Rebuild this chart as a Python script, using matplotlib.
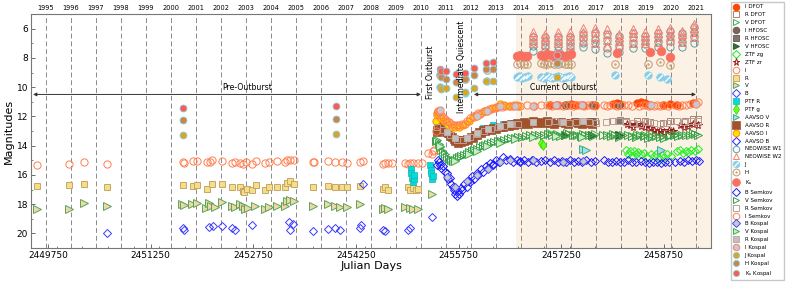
import matplotlib
matplotlib.use("Agg")
import matplotlib.pyplot as plt
from matplotlib.ticker import MultipleLocator, FixedLocator

plt.rcParams['font.family'] = ['DejaVu Sans']

# ---------------- data ----------------
years = list(range(1995, 2022))
year_jd = [2449718.5, 2450083.5, 2450449.5, 2450814.5, 2451179.5, 2451544.5, 2451910.5,
           2452275.5, 2452640.5, 2453005.5, 2453371.5, 2453736.5, 2454101.5, 2454466.5,
           2454832.5, 2455197.5, 2455562.5, 2455927.5, 2456293.5, 2456658.5, 2457023.5,
           2457388.5, 2457754.5, 2458119.5, 2458484.5, 2458849.5, 2459215.5]
x_ticks = [2449750, 2451250, 2452750, 2454250, 2455750, 2457250, 2458750]

I_DFOT = [(2457084, 11.2), (2457186, 11.25), (2457333, 11.2), (2457400, 11.15), (2457450, 11.2),
          (2457567, 11.25), (2457742, 11.2), (2458005, 11.15), (2458060, 11.1), (2458107, 11.15),
          (2458356, 11.1), (2458420, 11.05), (2458472, 11.1), (2458545, 11.2), (2458735, 11.2),
          (2458837, 11.15), (2458940, 11.2), (2459174, 11.1)]
R_DFOT = [(2457084, 12.35), (2457186, 12.3), (2457333, 12.4), (2457450, 12.3), (2457567, 12.35),
          (2457742, 12.3), (2458005, 12.3), (2458107, 12.25), (2458200, 12.35), (2458356, 12.3),
          (2458472, 12.35), (2458545, 12.4), (2458735, 12.45), (2458837, 12.35), (2458940, 12.35),
          (2459060, 12.3), (2459174, 12.2), (2459250, 12.15)]
V_DFOT = [(2457084, 13.15), (2457186, 13.2), (2457333, 13.15), (2457450, 13.25), (2457567, 13.2),
          (2457742, 13.2), (2458005, 13.2), (2458107, 13.3), (2458356, 13.25), (2458472, 13.3),
          (2458545, 13.3), (2458735, 13.35), (2458837, 13.25), (2458940, 13.2), (2459174, 13.15)]
I_HFOSC = [(2457300, 11.2), (2457700, 11.2), (2458100, 11.2)]
R_HFOSC = [(2457300, 12.4), (2457700, 12.35), (2458100, 12.3)]
V_HFOSC = [(2457300, 13.3), (2457700, 13.25), (2458100, 13.3)]
ZTF_zg = [(2458200, 14.3), (2458230, 14.6), (2458260, 14.4), (2458290, 14.7), (2458320, 14.35),
          (2458350, 14.55), (2458380, 14.45), (2458420, 14.6), (2458460, 14.5), (2458500, 14.75),
          (2458560, 14.55), (2458600, 14.7), (2458640, 14.6), (2458680, 14.85), (2458720, 14.65),
          (2458760, 14.8), (2458800, 14.6), (2458850, 14.7), (2458950, 14.4), (2458990, 14.3),
          (2459030, 14.5), (2459070, 14.35), (2459110, 14.45), (2459150, 14.3), (2459200, 14.4),
          (2459250, 14.25)]
ZTF_zr = [(2458210, 12.5), (2458250, 12.6), (2458300, 12.7), (2458350, 12.55), (2458420, 12.65),
          (2458480, 12.75), (2458545, 12.8), (2458600, 12.95), (2458650, 13.05), (2458700, 12.9),
          (2458760, 13.1), (2458820, 12.95), (2458880, 13.0), (2458990, 12.6), (2459050, 12.7),
          (2459110, 12.65), (2459180, 12.55), (2459250, 12.6)]

I_arch = [(2449585, 15.35), (2450057, 15.25), (2450280, 15.15), (2450608, 15.28), (2451718, 15.15),
          (2451737, 15.2), (2451864, 15.05), (2451922, 15.05), (2452069, 15.15), (2452117, 15.1),
          (2452150, 15.0), (2452288, 15.05), (2452434, 15.2), (2452482, 15.15), (2452555, 15.2),
          (2452594, 15.25), (2452643, 15.15), (2452726, 15.25), (2452784, 15.05), (2452920, 15.2),
          (2452983, 15.1), (2453100, 15.05), (2453213, 15.1), (2453246, 15.0), (2453286, 14.95),
          (2453344, 14.98), (2453617, 15.15), (2453636, 15.1), (2453845, 15.05), (2453943, 15.1),
          (2454041, 15.15), (2454114, 15.18), (2454308, 15.12), (2454357, 15.05), (2454649, 15.24),
          (2454674, 15.2), (2454722, 15.2), (2454771, 15.22), (2454966, 15.2), (2455014, 15.25),
          (2455039, 15.2), (2455088, 15.18), (2455160, 15.2), (2455210, 15.2), (2455300, 14.5),
          (2455356, 14.55), (2455380, 14.4)]
R_arch = [(2449585, 16.75), (2450057, 16.7), (2450280, 16.6), (2450608, 16.85), (2451718, 16.7),
          (2451864, 16.75), (2451922, 16.72), (2452069, 16.95), (2452150, 16.6), (2452288, 16.65),
          (2452434, 16.85), (2452555, 16.85), (2452594, 17.1), (2452614, 17.2), (2452653, 16.95),
          (2452726, 17.0), (2452784, 16.7), (2452920, 17.0), (2452983, 16.8), (2453100, 16.8),
          (2453213, 16.8), (2453246, 16.55), (2453286, 16.45), (2453344, 16.6), (2453617, 16.85),
          (2453845, 16.75), (2453943, 16.8), (2454041, 16.85), (2454114, 16.85), (2454308, 16.75),
          (2454649, 16.95), (2454674, 16.85), (2454722, 17.0), (2455014, 16.83), (2455039, 17.0),
          (2455088, 16.9), (2455130, 17.05), (2455160, 16.95)]
V_arch = [(2449585, 18.35), (2450057, 18.3), (2450280, 17.92), (2450608, 18.15), (2451703, 18.0),
          (2451741, 18.05), (2451849, 18.0), (2451922, 17.95), (2452058, 18.25), (2452107, 17.95),
          (2452131, 18.15), (2452190, 18.2), (2452288, 17.85), (2452434, 18.15), (2452482, 18.2),
          (2452555, 18.0), (2452594, 18.15), (2452628, 18.3), (2452676, 18.25), (2452774, 18.1),
          (2452920, 18.3), (2452983, 18.2), (2453091, 18.1), (2453213, 18.15), (2453246, 17.8),
          (2453286, 17.7), (2453344, 17.8), (2453617, 18.15), (2453845, 18.0), (2453943, 18.1),
          (2454016, 18.2), (2454114, 18.2), (2454308, 17.97), (2454649, 18.3), (2454674, 18.25),
          (2454722, 18.3), (2454966, 18.2), (2455039, 18.25), (2455088, 18.3), (2455160, 18.3),
          (2455356, 17.3)]
B_arch = [(2450608, 20.0), (2451718, 19.6), (2451737, 19.8), (2452107, 19.55), (2452165, 19.5),
          (2452288, 19.5), (2452443, 19.65), (2452482, 19.75), (2452726, 19.4), (2453275, 19.2),
          (2453286, 19.75), (2453334, 19.35), (2453617, 19.85), (2453845, 19.7), (2453943, 19.6),
          (2454016, 19.75), (2454308, 19.6), (2454330, 19.45), (2454357, 16.6), (2454649, 19.75),
          (2454674, 19.85), (2455014, 19.8), (2455039, 19.65), (2455356, 18.9)]

PTF_R = [(2455050, 15.6), (2455060, 15.9), (2455075, 16.2), (2455085, 16.5), (2455095, 16.3),
         (2455105, 16.0), (2455330, 15.35), (2455340, 15.7), (2455350, 15.9), (2455365, 16.3),
         (2455375, 16.1), (2455430, 12.9), (2455450, 12.6), (2455480, 12.5), (2455520, 12.8),
         (2455600, 13.1), (2456100, 12.8), (2456250, 12.6), (2456400, 12.5), (2456560, 12.45),
         (2456620, 12.5)]
PTF_g = [(2456960, 13.8), (2456990, 13.95)]
AAVSO_V = [(2457571, 14.2), (2457620, 14.3), (2458716, 14.3)]
AAVSO_R = [(2455429, 13.1), (2455440, 12.9), (2455450, 12.7), (2455465, 12.6), (2455477, 12.75),
           (2455500, 12.7), (2455520, 12.9), (2455550, 12.85), (2455570, 13.05), (2455600, 13.15),
           (2455623, 13.35), (2455650, 13.4), (2455680, 13.55), (2455700, 13.7), (2455720, 13.6),
           (2455740, 13.8), (2455760, 13.65), (2455780, 13.75), (2455800, 13.6), (2455830, 13.7),
           (2455867, 13.55), (2455890, 13.6), (2455930, 13.4), (2455960, 13.45), (2455988, 13.25),
           (2456020, 13.3), (2456050, 13.1), (2456080, 13.15), (2456105, 12.95), (2456140, 13.0),
           (2456180, 12.85), (2456220, 12.9), (2456250, 12.8), (2456300, 12.85), (2456354, 12.7),
           (2456400, 12.75), (2456450, 12.6), (2456490, 12.65), (2456520, 12.55), (2456560, 12.6),
           (2456598, 12.45), (2456650, 12.5), (2456700, 12.4), (2456760, 12.5), (2456836, 12.35),
           (2456900, 12.45), (2456950, 12.4), (2457000, 12.45), (2457050, 12.35), (2457100, 12.45),
           (2457150, 12.5), (2457250, 12.4), (2457300, 12.45), (2457350, 12.5), (2457450, 12.4),
           (2457500, 12.45), (2457550, 12.5), (2457600, 12.4), (2457650, 12.45), (2457700, 12.5)]
AAVSO_I = [(2455425, 12.3), (2455440, 11.75), (2455455, 11.6), (2455470, 11.9), (2455490, 12.1),
           (2455530, 12.3), (2455560, 12.4), (2455600, 12.6), (2455650, 12.7), (2455700, 12.7),
           (2455750, 12.75), (2455820, 12.6), (2455900, 12.3), (2455980, 12.05), (2456060, 11.85),
           (2456140, 11.65), (2456220, 11.5), (2456300, 11.35), (2456360, 11.15), (2456420, 11.2),
           (2456500, 11.3), (2456560, 11.2), (2456620, 11.3)]
AAVSO_B = [(2456250, 15.25), (2456650, 15.05)]

neowise_jd = [2456831, 2457011, 2457205, 2457376, 2457562, 2457742, 2457921, 2458097, 2458301,
              2458472, 2458667, 2458838, 2459023, 2459188]
neowise_W2 = [[6.25, 6.5, 6.75, 7.0], [6.4, 6.6, 6.8, 7.05], [6.25, 6.5, 6.75, 7.0],
              [6.25, 6.5, 6.8, 7.1], [5.95, 6.2, 6.5, 6.85], [5.95, 6.25, 6.6, 7.0],
              [6.05, 6.4, 6.8, 7.2], [6.35, 6.6, 6.85, 7.1], [6.05, 6.3, 6.6, 6.95],
              [6.25, 6.5, 6.75, 7.0], [6.05, 6.3, 6.6, 6.9], [5.95, 6.2, 6.5, 6.8],
              [6.15, 6.4, 6.65, 6.9], [5.7, 5.95, 6.25, 6.6]]
neowise_W1 = [[6.6, 6.9, 7.2, 7.5], [6.6, 6.9, 7.2, 7.5], [6.6, 6.9, 7.2, 7.45],
              [6.6, 6.9, 7.2, 7.5], [6.35, 6.65, 6.95, 7.25], [6.3, 6.7, 7.0, 7.4],
              [6.4, 6.8, 7.3, 7.7], [6.5, 6.85, 7.2, 7.6], [6.3, 6.6, 6.95, 7.35],
              [6.5, 6.8, 7.05, 7.35], [6.3, 6.6, 6.9, 7.25], [6.15, 6.5, 6.85, 7.25],
              [6.3, 6.6, 6.9, 7.25], [5.9, 6.2, 6.55, 7.0]]

J_obs = [(2455480, 10.0), (2455850, 10.4), (2456160, 9.6), (2456600, 9.3), (2456640, 9.25),
         (2456680, 9.35), (2456720, 9.3), (2456760, 9.25), (2456950, 9.3), (2457000, 9.35),
         (2457040, 9.25), (2457080, 9.3), (2457120, 9.35), (2457160, 9.3), (2457200, 9.25),
         (2457240, 9.3), (2457280, 9.35), (2457320, 9.3), (2457360, 9.25), (2457400, 9.3),
         (2458034, 9.2), (2458520, 9.2), (2458691, 9.32), (2458803, 9.43)]
H_obs = [(2455480, 9.15), (2455850, 9.45), (2456160, 8.8), (2456600, 8.4), (2456650, 8.35),
         (2456700, 8.45), (2456750, 8.4), (2456950, 8.35), (2457000, 8.4), (2457050, 8.45),
         (2457100, 8.35), (2457150, 8.4), (2457200, 8.45), (2457250, 8.35), (2457300, 8.4),
         (2457350, 8.45), (2457400, 8.4), (2458034, 8.41), (2458520, 8.41), (2458691, 8.3),
         (2458837, 8.52)]
Ks_obs = [(2456600, 7.85), (2456650, 7.8), (2456700, 7.9), (2456750, 7.85), (2456950, 7.8),
          (2457000, 7.85), (2457050, 7.75), (2457100, 7.8), (2457150, 7.85), (2457200, 7.75),
          (2457250, 7.8), (2457300, 7.85), (2457350, 7.8), (2457400, 7.75), (2458059, 7.7),
          (2458545, 7.62), (2458716, 7.5), (2458834, 7.96)]

B_Semkov = [(2455430, 15.3), (2455445, 15.0), (2455460, 15.1), (2455480, 15.3), (2455500, 15.5),
            (2455520, 15.4), (2455545, 15.8), (2455575, 15.9), (2455600, 16.3), (2455620, 16.2),
            (2455645, 16.6), (2455671, 16.8), (2455690, 17.0), (2455705, 17.3), (2455721, 17.45),
            (2455740, 17.1), (2455760, 17.3), (2455780, 16.9), (2455800, 17.0), (2455830, 16.6),
            (2455867, 16.8), (2455890, 16.4), (2455920, 16.5), (2455950, 16.1), (2455980, 16.3),
            (2456013, 15.9), (2456040, 16.0), (2456080, 15.6), (2456110, 15.8), (2456150, 15.4),
            (2456180, 15.5), (2456208, 15.2), (2456250, 15.3), (2456300, 15.0), (2456340, 15.1),
            (2456402, 14.8), (2456440, 15.0), (2456500, 14.9), (2456550, 15.1), (2456598, 15.0),
            (2456650, 15.1), (2456700, 15.0), (2456760, 15.15), (2456820, 15.0), (2456880, 15.1),
            (2456950, 15.05), (2457020, 15.0), (2457080, 15.15), (2457140, 15.0), (2457200, 15.1),
            (2457260, 15.05), (2457320, 15.15), (2457380, 15.0), (2457440, 15.1), (2457500, 15.05),
            (2457560, 15.15), (2457620, 15.0), (2457680, 15.1), (2457740, 15.05), (2457870, 15.0),
            (2457930, 15.1), (2457990, 15.15), (2458050, 15.05), (2458110, 15.1), (2458170, 15.15),
            (2458230, 15.0), (2458290, 15.1), (2458350, 15.15), (2458410, 15.05), (2458470, 15.1),
            (2458530, 15.2), (2458590, 15.1), (2458650, 15.15), (2458710, 15.2), (2458770, 15.1),
            (2458830, 15.15), (2458920, 15.1), (2458980, 15.05), (2459040, 15.1), (2459100, 15.0),
            (2459160, 15.05), (2459220, 15.0), (2459260, 15.05)]
V_Semkov = [(2455425, 13.7), (2455440, 13.6), (2455460, 13.9), (2455480, 14.1), (2455500, 14.3),
            (2455525, 14.45), (2455550, 14.6), (2455580, 14.75), (2455610, 14.9), (2455640, 14.95),
            (2455670, 15.05), (2455700, 14.95), (2455730, 14.85), (2455760, 14.8), (2455790, 14.7),
            (2455830, 14.65), (2455867, 14.55), (2455900, 14.45), (2455940, 14.35), (2455980, 14.3),
            (2456020, 14.2), (2456060, 14.1), (2456100, 14.05), (2456140, 13.95), (2456180, 13.9),
            (2456220, 13.85), (2456270, 13.75), (2456320, 13.7), (2456370, 13.65), (2456420, 13.6),
            (2456470, 13.55), (2456520, 13.5), (2456570, 13.45), (2456620, 13.4), (2456680, 13.4),
            (2456740, 13.35), (2456800, 13.3), (2456860, 13.3), (2456920, 13.25), (2457000, 13.3),
            (2457060, 13.2), (2457120, 13.3), (2457180, 13.25), (2457240, 13.35), (2457300, 13.3),
            (2457360, 13.2), (2457420, 13.3), (2457480, 13.25), (2457540, 13.35), (2457600, 13.3),
            (2457660, 13.25), (2457720, 13.35), (2457860, 13.3), (2457920, 13.25), (2457980, 13.35),
            (2458040, 13.3), (2458100, 13.4), (2458160, 13.3), (2458220, 13.25), (2458280, 13.35),
            (2458340, 13.4), (2458400, 13.3), (2458460, 13.35), (2458520, 13.45), (2458580, 13.4),
            (2458640, 13.35), (2458700, 13.4), (2458760, 13.45), (2458820, 13.35), (2458900, 13.3),
            (2458960, 13.35), (2459020, 13.3), (2459080, 13.25), (2459140, 13.3), (2459200, 13.2),
            (2459250, 13.25)]
R_Semkov = [(2455440, 12.7), (2455520, 12.9), (2455620, 13.3), (2455720, 13.6), (2455820, 13.6),
            (2455920, 13.4), (2456020, 13.2), (2456120, 13.0), (2456220, 12.85), (2456320, 12.75),
            (2456420, 12.65), (2456520, 12.55), (2456620, 12.5), (2457060, 12.4), (2457160, 12.35),
            (2457260, 12.4), (2457360, 12.45), (2457460, 12.4), (2457560, 12.35), (2457660, 12.4),
            (2457760, 12.45), (2457900, 12.4), (2458000, 12.3), (2458100, 12.35), (2458200, 12.4),
            (2458300, 12.45), (2458400, 12.5), (2458500, 12.4), (2458600, 12.45), (2458700, 12.5),
            (2458800, 12.45), (2458950, 12.35), (2459050, 12.4), (2459150, 12.35), (2459250, 12.3)]
I_Semkov = [(2455395, 14.3), (2455415, 13.0), (2455435, 11.9), (2455450, 11.6), (2455470, 11.7),
            (2455495, 11.9), (2455520, 12.05), (2455545, 12.2), (2455575, 12.3), (2455605, 12.4),
            (2455640, 12.5), (2455680, 12.6), (2455720, 12.6), (2455760, 12.6), (2455800, 12.55),
            (2455840, 12.5), (2455880, 12.3), (2455920, 12.1), (2455960, 12.0), (2456000, 11.9),
            (2456040, 11.8), (2456080, 11.75), (2456120, 11.65), (2456160, 11.6), (2456200, 11.5),
            (2456240, 11.45), (2456280, 11.4), (2456330, 11.35), (2456380, 11.35), (2456430, 11.3),
            (2456480, 11.3), (2456540, 11.3), (2456600, 11.25), (2456650, 11.3), (2456750, 11.25),
            (2456850, 11.3), (2456950, 11.25), (2457040, 11.25), (2457080, 11.2), (2457120, 11.3),
            (2457170, 11.25), (2457220, 11.2), (2457270, 11.3), (2457330, 11.25), (2457380, 11.2),
            (2457430, 11.3), (2457480, 11.25), (2457530, 11.2), (2457580, 11.3), (2457640, 11.2),
            (2457700, 11.25), (2457740, 11.3), (2457870, 11.25), (2457920, 11.3), (2457970, 11.2),
            (2458020, 11.25), (2458070, 11.3), (2458120, 11.2), (2458170, 11.2), (2458230, 11.25),
            (2458290, 11.3), (2458390, 11.3), (2458440, 11.25), (2458490, 11.2), (2458540, 11.3),
            (2458600, 11.3), (2458650, 11.2), (2458700, 11.3), (2458760, 11.25), (2458810, 11.3),
            (2458920, 11.2), (2458970, 11.3), (2459020, 11.2), (2459080, 11.2), (2459140, 11.15),
            (2459200, 11.1), (2459250, 11.05)]

B_Kospal = [(2455575, 16.15), (2455696, 16.85), (2455867, 16.4), (2456013, 16.0), (2456184, 15.6),
            (2456354, 15.1), (2456500, 15.0), (2456840, 15.0), (2457279, 15.1), (2457571, 15.05)]
V_Kospal = [(2455480, 14.0), (2455700, 15.05), (2455900, 14.6), (2456013, 14.35), (2456159, 14.05),
            (2456354, 13.8), (2456573, 13.55), (2456840, 13.4), (2457175, 13.35), (2457560, 13.4)]
R_Kospal = [(2455575, 13.1), (2455696, 13.45), (2455867, 13.45), (2456013, 13.15), (2456184, 12.85),
            (2456354, 12.65), (2456500, 12.55), (2456840, 12.4), (2457279, 12.4), (2457571, 12.35)]
I_Kospal = [(2455480, 11.55), (2456013, 11.95), (2456159, 11.6), (2456354, 11.26), (2456573, 11.26),
            (2456840, 11.26), (2457175, 11.2), (2457560, 11.25), (2458560, 11.25), (2459220, 11.15)]
J_Kospal = [(2451718, 13.25), (2453958, 13.2), (2455477, 9.96), (2455490, 10.1), (2455560, 10.05),
            (2455711, 10.7), (2455842, 10.35), (2455974, 10.05), (2456149, 9.55), (2456247, 9.6),
            (2457191, 9.28)]
H_Kospal = [(2451718, 12.23), (2453958, 12.2), (2455477, 9.1), (2455490, 9.3), (2455560, 9.43),
            (2455711, 9.66), (2455842, 9.43), (2455974, 9.14), (2456149, 8.75), (2456247, 8.75),
            (2457191, 8.36)]
Ks_Kospal = [(2451718, 11.45), (2453958, 11.3), (2455477, 8.75), (2455490, 8.9), (2455560, 8.9),
             (2455711, 9.1), (2455842, 9.0), (2455974, 8.7), (2456149, 8.35), (2456247, 8.25),
             (2457191, 7.77)]

# ---------------- figure ----------------
fig = plt.figure(figsize=(7.89, 2.82), dpi=100)
ax = fig.add_axes([31 / 789, 1 - 248 / 282, 680 / 789, 234 / 282])
ax.set_xlim(2449500, 2459440)
ax.set_ylim(21, 5)

ax.axvspan(2456590, 2459440, facecolor='#fbf1e4', zorder=0)
for yj in year_jd:
    ax.axvline(yj, color='#8a8a8a', lw=0.7, ls=(0, (5, 3)), zorder=1)


def draw(data, **kw):
    xs = [p[0] for p in data]
    ys = [p[1] for p in data]
    return ax.plot(xs, ys, ls='none', zorder=3, **kw)[0]


def S(marker, ms, fc, ec, mew=0.7):
    return dict(marker=marker, ms=ms, mfc=fc, mec=ec, mew=mew)


handles = []
labels = []


def add(h, lab):
    handles.append(h)
    labels.append(lab)


add(draw(I_DFOT, **S('o', 5.2, '#ff4500', '#ff4500')), 'I DFOT')
add(draw(R_DFOT, **S('s', 4.8, 'none', '#b0806e')), 'R DFOT')
add(draw(V_DFOT, **S('>', 5.2, 'none', '#3cb043')), 'V DFOT')
add(draw(I_HFOSC, **S('o', 5.2, '#7d6458', '#6b5a52')), 'I HFOSC')
add(draw(R_HFOSC, **S('s', 4.8, '#7f746e', '#6e6460')), 'R HFOSC')
add(draw(V_HFOSC, **S('>', 5.2, '#3b6e3b', '#2f5a2f')), 'V HFOSC')
add(draw(ZTF_zg, **S('D', 4.5, 'none', '#33ee33', 0.8)), 'ZTF zg')
add(draw(ZTF_zr, **S('*', 5.8, 'none', '#9b1b1b', 0.7)), 'ZTF zr')
add(draw(I_arch, **S('o', 5.2, 'none', '#ff7f50')), 'I')
add(draw(R_arch, **S('s', 4.8, '#f2df86', '#c9a46a')), 'R')
add(draw(V_arch, **S('>', 5.2, '#f3d6a8', '#5aa55a')), 'V')
add(draw(B_arch, **S('D', 4.5, 'none', '#3a3aff')), 'B')
add(draw(PTF_R, **S('s', 4.8, '#00dcdc', '#20b2aa', 0.5)), 'PTF R')
add(draw(PTF_g, **S('d', 5.6, '#66ff22', '#33cc00', 0.5)), 'PTF g')
add(draw(AAVSO_V, **S('>', 5.2, '#9fe3e3', '#45a88a')), 'AAVSO V')
add(draw(AAVSO_R, **S('s', 5.8, '#a0522d', '#a0522d', 0.5)), 'AAVSO R')
add(draw(AAVSO_I, **S('o', 5.2, '#ffe000', '#ff8c00')), 'AAVSO I')
add(draw(AAVSO_B, **S('D', 4.5, 'none', '#2020ff')), 'AAVSO B')

w1 = [(jd, m) for jd, ms_ in zip(neowise_jd, neowise_W1) for m in ms_]
w2 = [(jd, m) for jd, ms_ in zip(neowise_jd, neowise_W2) for m in ms_]
add(draw(w1, **S('o', 5.2, 'none', '#5f9ea0')), 'NEOWISE W1')
add(draw(w2, **S('^', 5.2, 'none', '#fa8072')), 'NEOWISE W2')

j1 = draw(J_obs, **S('o', 5.4, '#87ceeb', '#87ceeb', 0.5))
j2 = draw(J_obs, **S((2, 2, -45), 5.0, 'white', 'white', 0.7))
add((j1, j2), 'J')
h1 = draw(H_obs, **S('o', 5.4, 'none', '#c8a27a', 0.8))
h2 = draw(H_obs, **S('o', 1.4, '#c8a27a', '#c8a27a', 0.3))
add((h1, h2), 'H')
add(draw(Ks_obs, **S('o', 6.2, '#fa7060', '#fa7060', 0.5)), 'K$_s$')

add(draw(B_Semkov, **S('D', 4.5, 'none', '#1a1aff')), 'B Semkov')
add(draw(V_Semkov, **S('>', 5.2, 'none', '#37a046')), 'V Semkov')
add(draw(R_Semkov, **S('s', 4.8, 'none', '#b8a29a')), 'R Semkov')
add(draw(I_Semkov, **S('o', 5.2, 'none', '#ff7f50')), 'I Semkov')
add(draw(B_Kospal, **S('D', 4.5, '#c8c8c8', '#4a4aff')), 'B Kospal')
add(draw(V_Kospal, **S('>', 5.2, '#cfe8cf', '#3cb043')), 'V Kospal')
add(draw(R_Kospal, **S('s', 4.8, '#c0c0c0', '#c8a8a0')), 'R Kospal')
add(draw(I_Kospal, **S('o', 5.2, '#c8c8c8', '#fa8072')), 'I Kospal')
add(draw(J_Kospal, **S('o', 5.0, '#daa520', '#87ceeb', 0.6)), 'J Kospal')
add(draw(H_Kospal, **S('o', 5.0, '#cd853f', '#87ceeb', 0.6)), 'H Kospal')
add(draw(Ks_Kospal, **S('o', 5.0, '#ff5a4a', '#87ceeb', 0.6)), 'K$_s$ Kospal')

# arrows and annotations
arr = dict(arrowstyle='<|-|>', color='#333333', lw=0.7, mutation_scale=5, shrinkA=0, shrinkB=0)
ax.annotate('', xy=(2449530, 10.5), xytext=(2455200, 10.5), arrowprops=arr, zorder=4)
ax.annotate('', xy=(2455974, 10.5), xytext=(2459220, 10.5), arrowprops=arr, zorder=4)
ax.text(2452657, 10.3, 'Pre-Outburst', fontsize=5.6, ha='center', va='bottom', zorder=5)
ax.text(2457274, 10.3, 'Current Outburst', fontsize=5.6, ha='center', va='bottom', zorder=5)
ax.text(2455341, 8.97, 'First Outburst', fontsize=5.6, rotation=90, ha='center', va='center', zorder=5)
ax.text(2455794, 8.59, 'Intermediate Quiescent', fontsize=5.6, rotation=90, ha='center',
        va='center', zorder=5)

# axes styling
ax.set_xticks(x_ticks)
ax.set_xticklabels([str(t) for t in x_ticks])
ax.xaxis.set_minor_locator(MultipleLocator(375))
ax.yaxis.set_major_locator(FixedLocator([6, 8, 10, 12, 14, 16, 18, 20]))
ax.yaxis.set_minor_locator(MultipleLocator(1))
ax.tick_params(axis='both', which='major', labelsize=6.5, direction='in', length=3, width=0.6,
               color='#555555', pad=2)
ax.tick_params(axis='both', which='minor', direction='in', length=1.6, width=0.5, color='#555555')
for sp in ax.spines.values():
    sp.set_color('#777777')
    sp.set_linewidth(0.8)
ax.set_xlabel('Julian Days', fontsize=8, labelpad=1)
ax.set_ylabel('Magnitudes', fontsize=8, labelpad=2)

top = ax.secondary_xaxis('top')
top.set_xticks(year_jd)
top.set_xticklabels([str(y) for y in years])
top.tick_params(labelsize=4.8, length=0, pad=2)
top.spines['top'].set_visible(False)

fig.legend(handles, labels, loc='upper left', bbox_to_anchor=(731 / 789, 1 - 2 / 282),
           fontsize=4, frameon=True, fancybox=False, edgecolor='#bbbbbb', labelspacing=0.52,
           handlelength=1.0, handletextpad=1.0, borderpad=0.45, borderaxespad=0, numpoints=1,
           markerscale=0.9)

fig.savefig('out.png', dpi=100)
